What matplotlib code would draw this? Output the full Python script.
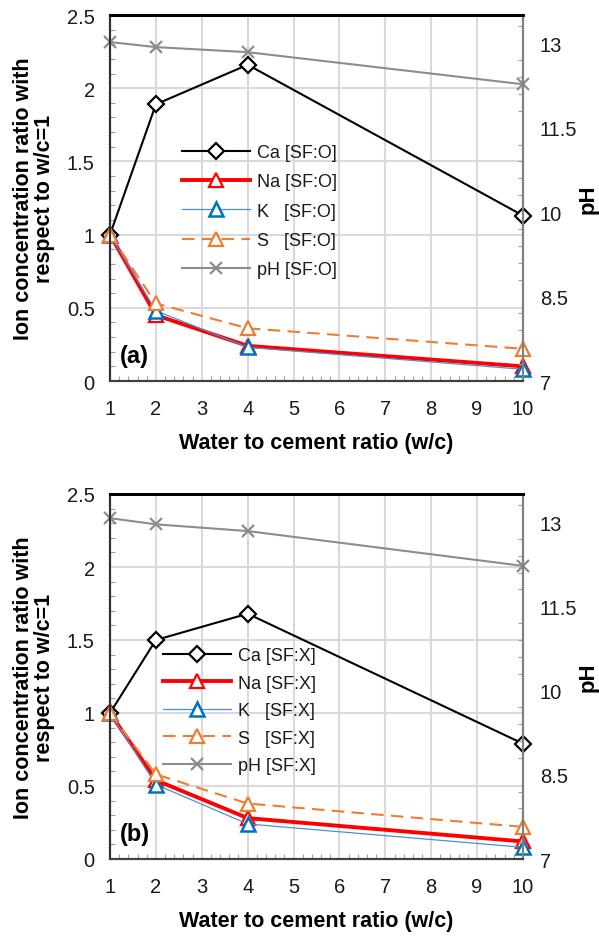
import numpy as np
import matplotlib
matplotlib.use("Agg")
import matplotlib.pyplot as plt
from matplotlib.ticker import MultipleLocator, FixedLocator, FormatStrFormatter

plt.rcParams['font.family'] = ['Liberation Sans', 'DejaVu Sans']

wc = [1, 2, 4, 10]

# Panel (a) SF:O
ca_a = [1.0, 1.89, 2.16, 1.13]
na_a = [1.0, 0.45, 0.24, 0.10]
k_a = [1.0, 0.48, 0.23, 0.08]
s_a = [1.0, 0.53, 0.36, 0.22]
ph_a = [13.02, 12.93, 12.84, 12.27]

# Panel (b) SF:X
ca_b = [1.0, 1.50, 1.68, 0.79]
na_b = [1.0, 0.54, 0.28, 0.12]
k_b = [1.0, 0.51, 0.24, 0.08]
s_b = [1.0, 0.58, 0.38, 0.22]
ph_b = [13.07, 12.96, 12.84, 12.22]

left_ticks = [0, 0.5, 1, 1.5, 2, 2.5]
right_ticks = [7, 8.5, 10, 11.5, 13]
x_ticks = list(range(1, 11))

W, H = 599, 937
fig = plt.figure(figsize=(W / 100, H / 100), dpi=100)

RED = '#FF0000'
BLUE_L = '#4A90D9'
BLUE_M = '#0070C0'
ORANGE = '#ED7D31'
GRAY = '#8C8C8C'


def panel(rect, ca, na, k, s, ph, tag, label, leg_anchor, lspace):
    ax = fig.add_axes(rect)
    ax2 = ax.twinx()
    ax.set_zorder(1)
    ax.patch.set_visible(False)
    ax2.set_zorder(2)

    ax.set_xlim(1, 10)
    ax.set_ylim(0, 2.5)
    ax2.set_ylim(7, 13.5)

    ax.xaxis.set_major_locator(FixedLocator(x_ticks))
    ax.xaxis.set_minor_locator(MultipleLocator(0.2))
    ax.yaxis.set_major_locator(FixedLocator(left_ticks))
    ax.yaxis.set_minor_locator(MultipleLocator(0.1))
    ax.yaxis.set_major_formatter(FormatStrFormatter('%g'))
    ax2.yaxis.set_major_locator(FixedLocator(right_ticks))
    ax2.yaxis.set_minor_locator(FixedLocator(np.arange(7, 13.55, 0.3)))
    ax2.yaxis.set_major_formatter(FormatStrFormatter('%g'))

    ax.grid(True, which='major', color='#D9D9D9', lw=1.5, zorder=0)
    ax.set_axisbelow(True)

    ax.tick_params(which='major', length=0, labelsize=14.5, pad=11, colors='#1a1a1a')
    ax.tick_params(axis='x', which='major', pad=13)
    ax.tick_params(which='minor', direction='in', length=3.5, width=0.8, color='#A0A0A0')
    ax.tick_params(axis='y', which='minor', left=True, right=False)
    ax2.tick_params(which='major', length=0, labelsize=14.5, pad=12, colors='#1a1a1a')
    ax2.tick_params(which='minor', direction='in', length=3.5, width=0.8, color='#A0A0A0')

    for a in (ax, ax2):
        a.spines['top'].set_color('black')
        a.spines['top'].set_linewidth(2.0)
        a.spines['left'].set_color('#303030')
        a.spines['left'].set_linewidth(1.5)
        a.spines['bottom'].set_color('#404040')
        a.spines['bottom'].set_linewidth(1.5)
        a.spines['right'].set_color('#7F7F7F')
        a.spines['right'].set_linewidth(1.5)

    h1, = ax.plot(wc, ca, color='black', lw=1.5, marker='D', ms=8,
                  mfc='white', mec='black', mew=1.6, clip_on=False, zorder=3,
                  label='Ca [%s]' % tag)
    h2, = ax.plot(wc, na, color=RED, lw=2.8, marker='^', ms=10,
                  mfc='white', mec=RED, mew=1.6, clip_on=False, zorder=3,
                  label='Na [%s]' % tag)
    h3, = ax.plot(wc, k, color=BLUE_L, lw=0.9, marker='^', ms=10,
                  mfc='white', mec=BLUE_M, mew=1.8, clip_on=False, zorder=4,
                  label='K   [%s]' % tag)
    h4, = ax.plot(wc, s, color=ORANGE, lw=1.5, ls=(0, (6, 3.5)), marker='^', ms=10,
                  mfc='white', mec=ORANGE, mew=1.6, clip_on=False, zorder=5,
                  label='S   [%s]' % tag)
    h5, = ax2.plot(wc, ph, color=GRAY, lw=1.5, marker='x', ms=9, mew=1.6,
                   clip_on=False, label='pH [%s]' % tag)

    leg = ax2.legend(handles=[h1, h2, h3, h4, h5], loc='upper left',
                     bbox_to_anchor=leg_anchor, frameon=False, fontsize=13,
                     handlelength=3.8, handletextpad=0.35, labelspacing=lspace,
                     borderpad=0, borderaxespad=0)
    for t in leg.get_texts():
        t.set_color('#1a1a1a')

    ax.set_xlabel('Water to cement ratio (w/c)', fontsize=15.5, fontweight='bold', labelpad=10)
    ax.set_ylabel('Ion concentration ratio with\nrespect to w/c=1', fontsize=15.5,
                  fontweight='bold', linespacing=1.05)
    ax.yaxis.set_label_coords(-0.184, 0.5)
    ax.yaxis.label.set_verticalalignment('center')
    ax2.set_ylabel('pH', fontsize=16, fontweight='bold')
    ax2.yaxis.set_label_coords(1.157, 0.5)
    ax2.yaxis.label.set_verticalalignment('center')
    ax.text(0.025, 0.07, label, transform=ax.transAxes, fontsize=17,
            fontweight='bold', ha='left', va='center', zorder=6)
    return ax, ax2


def rect_px(l, r, t, b):
    return [l / W, 1 - b / H, (r - l) / W, (b - t) / H]


panel(rect_px(110, 523, 16, 382), ca_a, na_a, k_a, s_a, ph_a, 'SF:O', '(a)', (0.174, 0.647), 0.68)
panel(rect_px(110, 523, 495, 860), ca_b, na_b, k_b, s_b, ph_b, 'SF:X', '(b)', (0.128, 0.58), 0.58)

fig.savefig('out.png', dpi=100)
